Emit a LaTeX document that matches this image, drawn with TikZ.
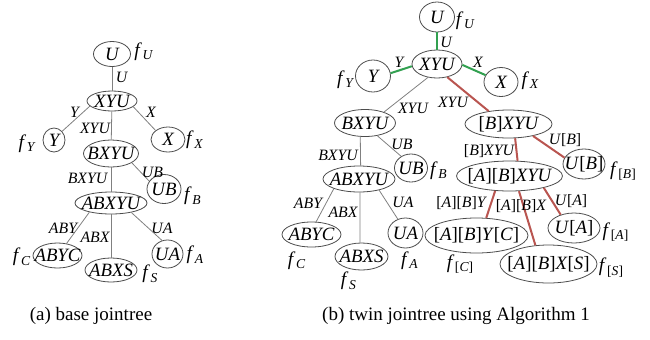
\documentclass[tikz,border=0pt]{standalone}
\usepackage{fontspec}
\setmainfont{Liberation Serif}
\usetikzlibrary{shapes.geometric}
\definecolor{jgreen}{RGB}{50,160,80}
\definecolor{jred}{RGB}{185,85,80}
\newcommand\bk[1]{\textup{[}#1\textup{]}}
\newcommand\fl[1]{\textit{f}\kern0.3pt\raisebox{-0.18em}{\fontsize{6.8}{7}\selectfont\itshape #1}}
\newcommand\nz[1]{\makebox[0pt]{#1}}
\begin{document}
\begin{tikzpicture}[x=0.5pt,y=-0.5pt,
 jt/.style={draw=black!70, line width=0.4pt, ellipse, inner sep=0pt, font=\fontsize{9.4}{11}\selectfont\itshape},
 sz/.style 2 args={minimum width=#1*0.5pt, minimum height=#2*0.5pt},
 el/.style={font=\fontsize{7.9}{9}\selectfont\itshape, inner sep=0pt},
 fn/.style={font=\fontsize{9.7}{11}\selectfont, inner sep=0pt},
 ge/.style={draw=black!50, line width=0.4pt},
 gr/.style={draw=jgreen, line width=1pt},
 rd/.style={draw=jred, line width=1pt},
 captext/.style={font=\fontsize{9.5}{11}\selectfont, inner sep=0pt}]
\useasboundingbox (0,0) rectangle (650,339);
% ---------- (a) ----------
\node[jt,sz={37}{25}] (aU) at (112,54) {\nz{U}};
\node[jt,sz={50}{20}] (aXYU) at (112,101) {\nz{XYU}};
\node[jt,sz={22}{24}] (aY) at (54,140) {\nz{Y}};
\node[jt,sz={34}{25}] (aX) at (168,139.5) {\nz{X}};
\node[jt,sz={55}{27}] (aBXYU) at (111,153.5) {\nz{BXYU}};
\node[jt,sz={34}{29}] (aUB) at (164,189) {\nz{UB}};
\node[jt,sz={72}{22}] (aABXYU) at (111,203) {\nz{ABXYU}};
\node[jt,sz={49}{25}] (aABYC) at (57.5,255.5) {\nz{ABYC}};
\node[jt,sz={52}{24}] (aABXS) at (111,270) {\nz{ABXS}};
\node[jt,sz={31}{28}] (aUA) at (167.5,254) {\nz{UA}};
\draw[ge] (aU) -- (aXYU);
\draw[ge] (aXYU.193) -- (aY.47);
\draw[ge] (aXYU.-15) -- (aX.144);
\draw[ge] (aXYU) -- (aBXYU);
\draw[ge] (aBXYU.-24) -- (aUB.152);
\draw[ge] (aBXYU) -- (aABXYU);
\draw[ge] (aABXYU.203) -- (aABYC.53);
\draw[ge] (aABXYU) -- (aABXS);
\draw[ge] (aABXYU.-25) -- (aUA.112);
\node[el] (laU) at (121.5,77.5) {U};
\node[el] (laY) at (74.5,112) {Y};
\node[el] (laX) at (151,112) {X};
\node[el] (laXYU) at (95,128) {XYU};
\node[el] (laUB) at (152.5,172) {UB};
\node[el] (laBXYU) at (87.5,178) {BXYU};
\node[el] (laABY) at (63,228) {ABY};
\node[el] (laABX) at (95,237) {ABX};
\node[el] (laUA) at (162,228) {UA};
\node[fn] (afU) at (143.5,51.5) {\fl{U}};
\node[fn] (afY) at (26.5,143.5) {\fl{Y}};
\node[fn] (afX) at (194.5,140) {\fl{X}};
\node[fn] (afB) at (192.5,196) {\fl{B}};
\node[fn] (afC) at (21.5,257) {\fl{C}};
\node[fn] (afA) at (195,255) {\fl{A}};
\node[fn] (afS) at (150,274) {\fl{S}};
% ---------- (b) ----------
\node[jt,sz={35}{30}] (bU) at (437,17) {\nz{U}};
\node[jt,sz={50}{28}] (bXYU) at (437,64) {\nz{XYU}};
\node[jt,sz={35}{32}] (bY) at (373,76) {\nz{Y}};
\node[jt,sz={34}{29}] (bX) at (501,82) {\nz{X}};
\node[jt,sz={61}{27}] (bBXYU) at (365,123) {\nz{BXYU}};
\node[jt,sz={87}{28}] (bBr) at (508.5,124) {\nz{\bk{B}XYU}};
\node[jt,sz={33}{28}] (bUB) at (411,168) {\nz{UB}};
\node[jt,sz={42}{30}] (bUBr) at (584,164) {\nz{U\bk{B}}};
\node[jt,sz={72}{26}] (bABXYU) at (359,179) {\nz{ABXYU}};
\node[jt,sz={106}{30}] (bABr) at (509.5,176) {\nz{\bk{A}\bk{B}XYU}};
\node[jt,sz={59}{25}] (bABYC) at (311.5,234.5) {\nz{ABYC}};
\node[jt,sz={35}{30}] (bUA) at (405.5,233) {\nz{UA}};
\node[jt,sz={53}{27}] (bABXS) at (361.5,256.5) {\nz{ABXS}};
\node[jt,sz={103}{35}] (bABYCr) at (476.5,235.5) {\nz{\bk{A}\bk{B}Y\bk{C}}};
\node[jt,sz={97}{38}] (bABXSr) at (548.5,264) {\nz{\bk{A}\bk{B}X\bk{S}}};
\node[jt,sz={52}{30}] (bUAr) at (574,228) {\nz{U\bk{A}}};
\draw[gr] (bU) -- (bXYU);
\draw[gr] (bXYU.185) -- (bY.9);
\draw[gr] (bXYU.-2) -- (bX.156);
\draw[ge] (bXYU.236) -- (bBXYU.30);
\draw[rd] (bXYU.-52) -- (bBr.147);
\draw[ge] (bBXYU.-46) -- (bUB.130);
\draw[ge] (bBXYU.251) -- (bABXYU.83);
\draw[ge] (bABXYU.201) -- (bABYC.70);
\draw[ge] (bABXYU.274) -- (bABXS.96);
\draw[ge] (bABXYU.-29) -- (bUA.119);
\draw[rd] (bBr.-26) -- (bUBr.162);
\draw[rd] (bBr.-65) -- (bABr.62);
\draw[rd] (bABr.226) -- (bABYCr.61);
\draw[rd] (bABr.-58) -- (bABXSr.125);
\draw[rd] (bABr.-19) -- (bUAr.135);
\node[el] (lbU) at (446,42) {U};
\node[el] (lbY) at (399,62) {Y};
\node[el] (lbX) at (478,62) {X};
\node[el] (lbXYUl) at (413,108) {XYU};
\node[el] (lbXYUr) at (453,102) {XYU};
\node[el] (lbUB) at (402,144) {UB};
\node[el] (lbBXYU) at (338,155) {BXYU};
\node[el] (lbBr) at (489,151) {\bk{B}XYU};
\node[el] (lbUBr) at (565,140) {U\bk{B}};
\node[el] (lbABY) at (308,203) {ABY};
\node[el] (lbABX) at (343,212) {ABX};
\node[el] (lbUA) at (403,202) {UA};
\node[el] (lbABYr) at (461,203) {\bk{A}\bk{B}Y};
\node[el] (lbABXr) at (521,206) {\bk{A}\bk{B}X};
\node[el] (lbUAr) at (571,201) {U\bk{A}};
\node[fn] (bfU) at (465,20.5) {\fl{U}};
\node[fn] (bfY) at (345,79.5) {\fl{Y}};
\node[fn] (bfX) at (530,80.5) {\fl{X}};
\node[fn] (bfB) at (438.5,170.5) {\fl{B}};
\node[fn] (bfC) at (296.5,260.5) {\fl{C}};
\node[fn] (bfA) at (409.5,260.5) {\fl{A}};
\node[fn] (bfS) at (348.5,281) {\fl{S}};
\node[fn] (bfBr) at (623,171) {\fl{\bk{B}}};
\node[fn] (bfAr) at (615.5,232) {\fl{\bk{A}}};
\node[fn] (bfCr) at (460,264) {\fl{\bk{C}}};
\node[fn] (bfSr) at (611,267.5) {\fl{\bk{S}}};
% ---------- captions ----------
\node[captext] (capa) at (91,316) {(a) base jointree};
\node[captext] (capb) at (456,316) {(b) twin jointree using Algorithm 1};
\end{tikzpicture}
\end{document}
